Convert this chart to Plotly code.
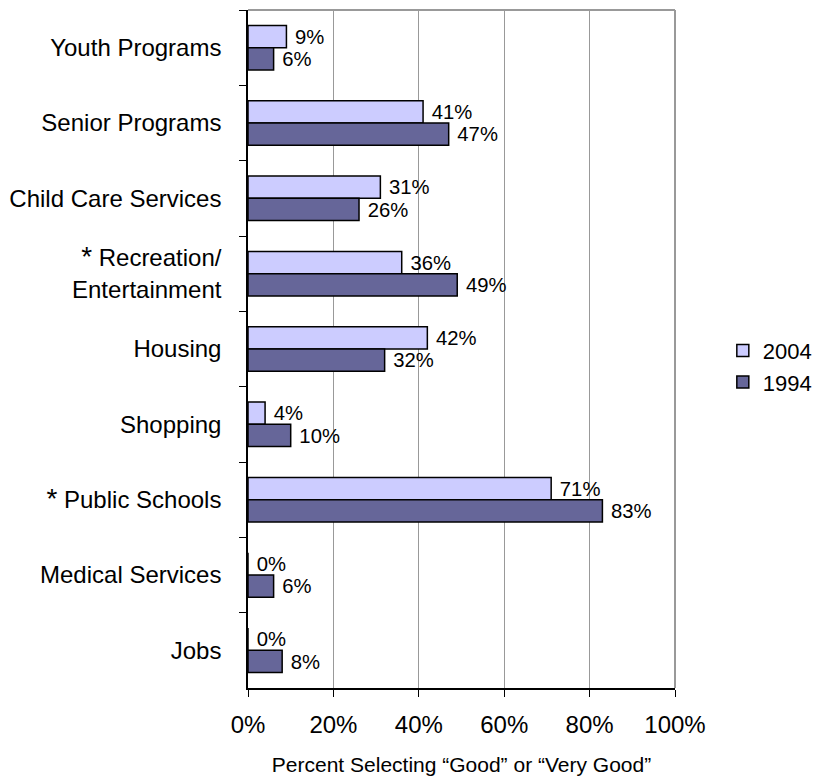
import plotly.graph_objects as go

categories = ["Youth Programs", "Senior Programs", "Child Care Services",
              "<span style='font-size:28px'>*</span> Recreation/<br>Entertainment",
              "Housing", "Shopping",
              "<span style='font-size:28px'>*</span> Public Schools",
              "Medical Services", "Jobs"]
values_2004 = [9, 41, 31, 36, 42, 4, 71, 0, 0]
values_1994 = [6, 47, 26, 49, 32, 10, 83, 6, 8]
x_ticks = [0, 20, 40, 60, 80, 100]
x_tick_labels = ["0%", "20%", "40%", "60%", "80%", "100%"]

FONT = "Liberation Sans, Arial, sans-serif"

fig = go.Figure()
for name, vals, color in [("2004", values_2004, "#CCCCFF"),
                          ("1994", values_1994, "#666699")]:
    fig.add_trace(go.Bar(
        y=categories, x=vals, name=name, orientation="h",
        marker=dict(color=color, line=dict(color="black", width=1.5)),
        text=[f" {v}%" for v in vals], textposition="outside", cliponaxis=False,
        textfont=dict(family=FONT, size=21, color="black"),
        hoverinfo="x+y",
    ))

fig.update_layout(
    width=807, height=768,
    margin=dict(l=240, r=140, t=2, b=88, autoexpand=False),
    paper_bgcolor="white", plot_bgcolor="white",
    barmode="group", bargap=0.41, bargroupgap=0,
    font=dict(family=FONT, size=24, color="black"),
    showlegend=True,
    legend=dict(x=1.112, y=0.474, xanchor="left", yanchor="middle",
                font=dict(family=FONT, size=22), tracegroupgap=10,
                itemwidth=30, bgcolor="rgba(0,0,0,0)"),
    xaxis=dict(range=[0, 100], tickvals=x_ticks, ticktext=x_tick_labels,
               showgrid=True, gridcolor="#999999", gridwidth=1,
               showline=True, linecolor="black", linewidth=1.5,
               ticks="outside", ticklen=7, tickcolor="black",
               zeroline=False, tickfont=dict(size=24), automargin=False,
               ticklabelstandoff=7,
               title=dict(text="Percent Selecting \u201cGood\u201d or \u201cVery Good\u201d",
                          font=dict(size=21), standoff=30)),
    yaxis=dict(autorange="reversed", type="category",
               showline=True, linecolor="black", linewidth=1.5,
               ticks="outside", ticklen=7, tickcolor="black",
               tickson="boundaries", showgrid=False, automargin=False,
               tickfont=dict(size=24), ticklabelstandoff=20),
    shapes=[
        dict(type="line", xref="paper", yref="paper", x0=0, x1=1, y0=1, y1=1,
             line=dict(color="#999999", width=2)),
        dict(type="line", xref="paper", yref="paper", x0=1, x1=1, y0=0, y1=1,
             line=dict(color="#999999", width=2)),
    ],
)

fig.write_html("out.html")
